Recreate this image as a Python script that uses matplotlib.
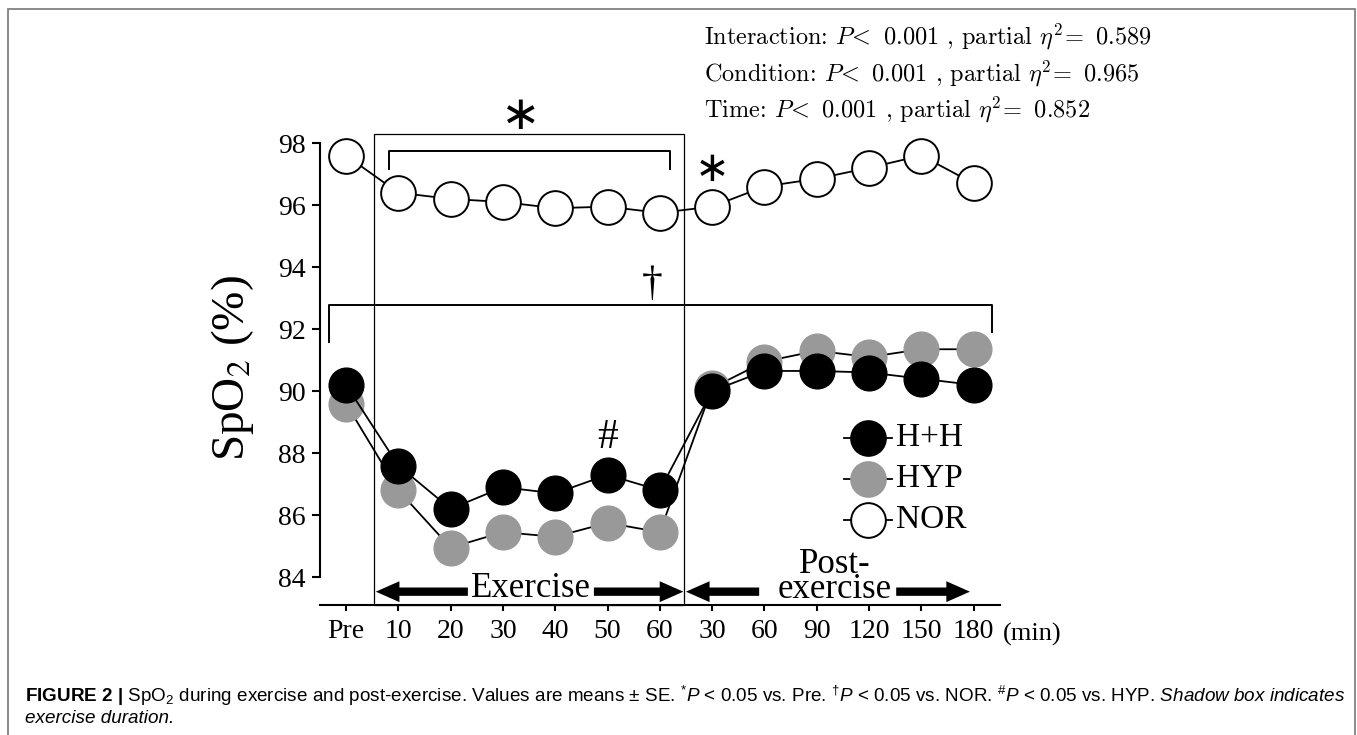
import matplotlib
matplotlib.use("Agg")
import matplotlib.pyplot as plt
import matplotlib.patches as patches
import numpy as np

# données (SpO2, %)
time_labels = ['Pre', '10', '20', '30', '40', '50', '60',
               '30', '60', '90', '120', '150', '180']
hh = [90.2, 87.6, 86.2, 86.9, 86.7, 87.3, 86.8, 90.0, 90.65, 90.65, 90.6, 90.4, 90.2]
hyp = [89.6, 86.8, 84.95, 85.45, 85.3, 85.75, 85.45, 90.1, 90.95, 91.3, 91.1, 91.35, 91.35]
nor = [97.6, 96.4, 96.2, 96.1, 95.9, 95.95, 95.75, 95.95, 96.6, 96.85, 97.2, 97.6, 96.7]
yticks = [84, 86, 88, 90, 92, 94, 96, 98]
stats = [('Interaction', '0.001', '0.589'),
         ('Condition', '0.001', '0.965'),
         ('Time', '0.001', '0.852')]

W, H = 1357, 735
plt.rcParams['font.family'] = 'Liberation Serif'
plt.rcParams['mathtext.rm'] = 'Liberation Sans'
plt.rcParams['mathtext.it'] = 'Liberation Sans:italic'
plt.rcParams['mathtext.bf'] = 'Liberation Sans:bold'
fig = plt.figure(figsize=(W / 100, H / 100), dpi=100)

# axe principal placé en pixels
x0, xw = 319.85, 679.9
yb, yh = 605, 508.4
ax = fig.add_axes([x0 / W, (H - yb) / H, xw / W, yh / H])
ax.set_xlim(-0.5, 12.5)
ax.set_ylim(83.1, 99.5)

x = np.arange(len(time_labels))
ms = 25
ax.plot(x, nor, color='black', lw=1.3, marker='o', ms=ms, mfc='white',
        mec='black', mew=1.4, zorder=3)
ax.plot(x, hyp, color='black', lw=1.3, marker='o', ms=ms, mfc='#999999',
        mec='#999999', mew=1, zorder=4)
ax.plot(x, hh, color='black', lw=1.3, marker='o', ms=ms, mfc='black',
        mec='black', mew=1, zorder=5)

# axes
for s in ['top', 'right']:
    ax.spines[s].set_visible(False)
ax.spines['left'].set_bounds(84, 98)
ax.spines['left'].set_linewidth(1.5)
ax.spines['bottom'].set_linewidth(1.5)
ax.set_yticks(yticks)
ax.set_yticklabels([str(v) for v in yticks])
ax.set_xticks(x)
ax.set_xticklabels(time_labels)
ax.tick_params(axis='y', direction='out', length=6, width=1.5, pad=4, labelsize=20)
ax.tick_params(axis='x', direction='out', length=4, width=1.5, pad=6, labelsize=20)
ax.text(12.56, -0.058, '(min)', transform=ax.get_xaxis_transform(), fontsize=19,
        ha='left', va='center')

fig.text(233 / W, 1 - 368 / H, r'SpO$_2$ (%)', rotation=90, fontsize=34,
         ha='center', va='center', math_fontfamily='stix')

# cadre de la période d'exercice
box = patches.Rectangle((0.53, 83.1), 6.46 - 0.53, 98.29 - 83.1, fill=False,
                        edgecolor='black', lw=0.9, zorder=2, clip_on=False)
ax.add_patch(box)

# crochet * (vs Pre)
ax.plot([0.82, 0.82, 6.2, 6.2], [97.16, 97.74, 97.74, 97.16], color='black',
        lw=1.4, clip_on=False)
ax.text(3.35, 98.85, '∗', fontsize=34, family='DejaVu Sans', ha='center',
        va='center')
ax.text(7.0, 97.15, '∗', fontsize=30, family='DejaVu Sans', ha='center',
        va='center')

# crochet † (vs NOR)
ax.plot([-0.33, -0.33, 12.35, 12.35], [91.6, 92.77, 92.77, 91.9], color='black',
        lw=1.4, clip_on=False)
ax.text(5.86, 92.8, '†', fontsize=30, ha='center', va='bottom')

# # (vs HYP)
ax.text(5.0, 88.5, '#', fontsize=30, ha='center', va='center')

# légende manuelle
leg_y = [88.5, 87.16, 85.84]
leg_style = [('black', 'black', 'H+H'), ('#999999', '#999999', 'HYP'),
             ('white', 'black', 'NOR')]
for yy, (fc, ec, name) in zip(leg_y, leg_style):
    ax.plot([9.52, 10.44], [yy, yy], color='black', lw=1.3)
    ax.plot([9.98], [yy], marker='o', ms=ms, mfc=fc, mec=ec, mew=1.4)
    ax.text(10.52, yy, name, fontsize=24, ha='left', va='center')

# flèches Exercise / Post-exercise
arr_y = 83.53
def fleche(xa, xb):
    a = patches.FancyArrowPatch((xa, arr_y), (xb, arr_y),
                                arrowstyle='simple,head_width=15,head_length=17,tail_width=6',
                                mutation_scale=1, color='black', lw=0,
                                clip_on=False, shrinkA=0, shrinkB=0)
    ax.add_patch(a)

fleche(2.33, 0.57)
fleche(4.74, 6.45)
fleche(7.90, 6.50)
fleche(10.52, 11.93)
ax.text(3.53, 83.35, 'Exercise', fontsize=25, ha='center', va='baseline')
ax.text(9.35, 84.12, 'Post-', fontsize=25, ha='center', va='baseline')
ax.text(9.35, 83.33, 'exercise', fontsize=25, ha='center', va='baseline')

# statistiques
for i, (name, p, eta) in enumerate(stats):
    s = name + r': $P\!<$ ' + p + r' , partial $\eta^2\!=$ ' + eta
    fig.text(704 / W, 1 - (37 + 36.5 * i) / H, s, fontsize=17.5, ha='left',
             va='center', family='cmr10', math_fontfamily='cm')

# cadre gris
fig.add_artist(patches.Rectangle((8 / W, -0.05), (1355 - 8) / W, 1 - 9 / H + 0.05,
                                 transform=fig.transFigure, fill=False,
                                 edgecolor='#777777', lw=1.2))

# légende de la figure
cap1 = (r'$\mathbf{FIGURE\ 2\ |}$ SpO$_2$ during exercise and post-exercise. '
        r'Values are means $\pm$ SE. $^{*}P$ < 0.05 vs. Pre. $^{\dagger}P$ < 0.05 vs. NOR. '
        r'$^{\#}P$ < 0.05 vs. HYP. $\mathit{Shadow\ box\ indicates}$')
fig.text(25 / W, 1 - 702 / H, cap1, fontsize=13.6, family='Liberation Sans',
         math_fontfamily='custom', ha='left', va='baseline')
fig.text(25 / W, 1 - 723 / H, 'exercise duration.', fontsize=13.6,
         family='Liberation Sans', style='italic', ha='left', va='baseline')

fig.savefig('out.png', dpi=100)
